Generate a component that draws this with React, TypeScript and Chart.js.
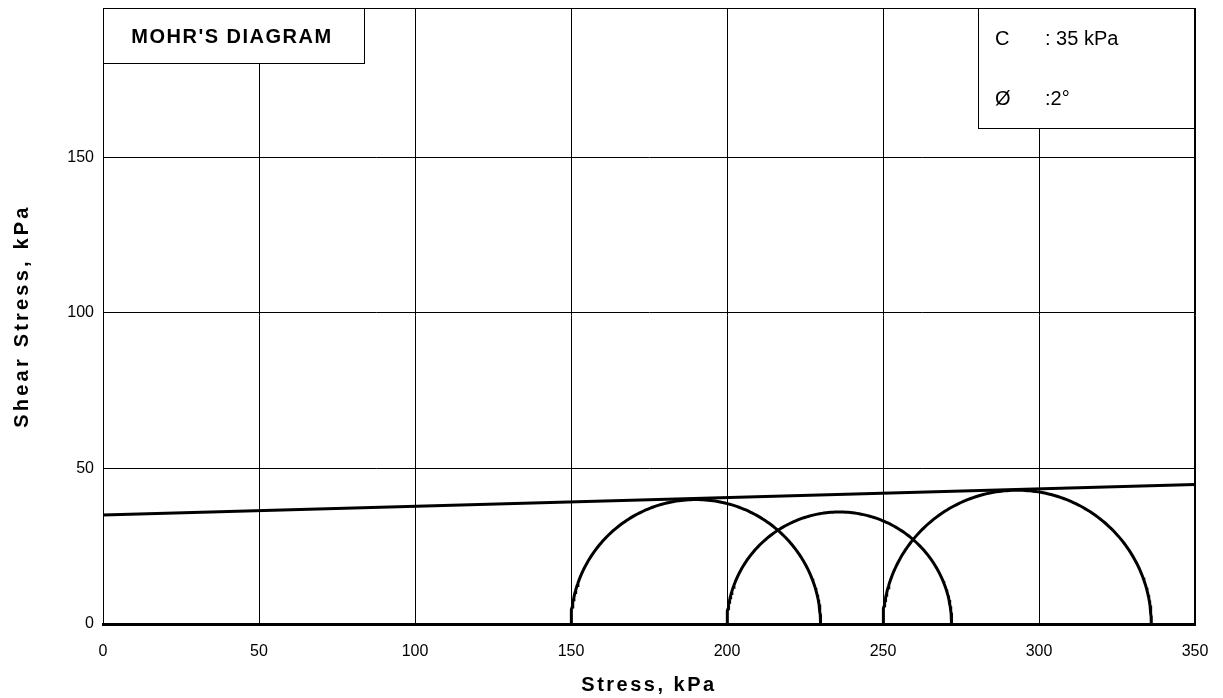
import React, { useEffect, useRef } from 'react';
import { Chart, registerables } from 'chart.js';

Chart.register(...registerables);

// ---- data ----
const X_TICKS = [0, 50, 100, 150, 200, 250, 300, 350];
const Y_TICKS = [0, 50, 100, 150];
const X_MIN = 0;
const X_MAX = 350;
const Y_MIN = 0;
const Y_MAX = 198;

// Mohr circles: minor / major principal stresses (kPa)
const sigma3 = [150, 200, 250];
const sigma1 = [230, 272, 336];

// Failure envelope end points
const envelopeX = [0, 350];
const envelopeY = [35, 44.8];

const TITLE = "MOHR'S DIAGRAM";
const X_TITLE = 'Stress, kPa';
const Y_TITLE = 'Shear Stress, kPa';
const PARAM_NAMES = ['C', 'Ø'];
const PARAM_VALUES = [': 35 kPa', ':2°'];

const FONT = '"Liberation Sans", Arial, Helvetica, sans-serif';

function circlePoints(s3: number, s1: number) {
  const c = (s1 + s3) / 2;
  const r = (s1 - s3) / 2;
  const pts: { x: number; y: number }[] = [];
  const n = 160;
  for (let i = 0; i <= n; i++) {
    const t = Math.PI - (Math.PI * i) / n;
    pts.push({ x: c + r * Math.cos(t), y: r * Math.sin(t) });
  }
  return pts;
}

const decorPlugin = {
  id: 'decor',
  afterDraw(chart: any) {
    const { ctx, chartArea: a } = chart;
    ctx.save();
    ctx.strokeStyle = '#000';
    ctx.lineWidth = 1;
    // plot frame
    ctx.strokeRect(a.left + 0.5, a.top + 0.5, a.right - a.left - 1, a.bottom - a.top);

    // title box
    const tw = 261, th = 55;
    ctx.fillStyle = '#fff';
    ctx.fillRect(a.left, a.top, tw, th);
    ctx.strokeRect(a.left + 0.5, a.top + 0.5, tw, th);
    ctx.fillStyle = '#000';
    ctx.font = `bold 20px ${FONT}`;
    (ctx as any).letterSpacing = '1.5px';
    ctx.textAlign = 'center';
    ctx.textBaseline = 'middle';
    ctx.fillText(TITLE, a.left + 129, a.top + 29);

    // parameter box
    const bw = 217, bh = 120;
    const bx = a.right - bw;
    ctx.fillStyle = '#fff';
    ctx.fillRect(bx, a.top, bw, bh);
    ctx.strokeRect(bx + 0.5, a.top + 0.5, bw - 1, bh);
    ctx.fillStyle = '#000';
    ctx.font = `20px ${FONT}`;
    (ctx as any).letterSpacing = '0px';
    ctx.textAlign = 'left';
    const rows = [a.top + 31, a.top + 91];
    PARAM_NAMES.forEach((n, i) => {
      ctx.fillText(n, bx + 17, rows[i]);
      ctx.fillText(PARAM_VALUES[i], bx + 67, rows[i]);
    });

    // axis titles
    ctx.font = `bold 20px ${FONT}`;
    ctx.textAlign = 'center';
    (ctx as any).letterSpacing = '2.5px';
    ctx.fillText(X_TITLE, (a.left + a.right) / 2, 685);
    (ctx as any).letterSpacing = '3.2px';
    ctx.save();
    ctx.translate(22, (a.top + a.bottom) / 2);
    ctx.rotate(-Math.PI / 2);
    ctx.fillText(Y_TITLE, 0, 0);
    ctx.restore();
    (ctx as any).letterSpacing = '0px';
    ctx.restore();
  },
};

export default function App() {
  const ref = useRef<HTMLCanvasElement | null>(null);

  useEffect(() => {
    if (!ref.current) return;
    const datasets: any[] = [
      {
        label: 'Envelope',
        data: envelopeX.map((x, i) => ({ x, y: envelopeY[i] })),
        showLine: true,
        borderColor: '#000',
        borderWidth: 3,
        pointRadius: 0,
        fill: false,
      },
    ];
    sigma3.forEach((s3, i) => {
      datasets.push({
        label: `Circle ${i + 1}`,
        data: circlePoints(s3, sigma1[i]),
        showLine: true,
        borderColor: '#000',
        borderWidth: 3,
        pointRadius: 0,
        fill: false,
        tension: 0,
      });
    });

    const chart = new Chart(ref.current, {
      type: 'scatter',
      data: { datasets },
      options: {
        animation: false,
        responsive: false,
        devicePixelRatio: 1,
        layout: { padding: { top: 8, right: 28, left: 0, bottom: 0 } },
        plugins: {
          legend: { display: false },
          tooltip: { enabled: false },
          title: { display: false },
        },
        scales: {
          x: {
            type: 'linear',
            min: X_MIN,
            max: X_MAX,
            afterBuildTicks: (s: any) => {
              s.ticks = X_TICKS.map((v) => ({ value: v }));
            },
            afterFit: (s: any) => {
              s.height = 74;
              s.paddingLeft = 0;
              s.paddingRight = 0;
            },
            ticks: {
              color: '#000',
              font: { family: FONT, size: 16 },
              padding: 18,
              maxRotation: 0,
              autoSkip: false,
            },
            grid: { color: '#000', lineWidth: 1, drawTicks: false },
            border: { color: '#000', width: 3 },
          },
          y: {
            type: 'linear',
            min: Y_MIN,
            max: Y_MAX,
            afterBuildTicks: (s: any) => {
              s.ticks = Y_TICKS.map((v) => ({ value: v }));
            },
            afterFit: (s: any) => {
              s.width = 103;
              s.paddingTop = 0;
              s.paddingBottom = 0;
            },
            ticks: {
              color: '#000',
              font: { family: FONT, size: 16 },
              padding: 9,
              autoSkip: false,
            },
            grid: { color: '#000', lineWidth: 1, drawTicks: false },
            border: { color: '#000', width: 1 },
          },
        },
      },
      plugins: [decorPlugin],
    });
    return () => chart.destroy();
  }, []);

  return (
    <div style={{ position: 'fixed', left: 0, top: 0, width: 1223, height: 698, background: '#fff' }}>
      <canvas ref={ref} width={1223} height={698} />
    </div>
  );
}
